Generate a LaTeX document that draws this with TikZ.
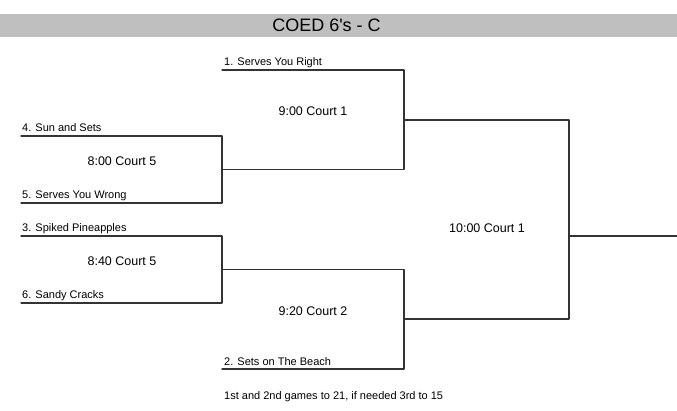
\documentclass[tikz,border=0pt]{standalone}
\usepackage{fontspec}
\setmainfont{Liberation Sans}
\begin{document}
\begin{tikzpicture}[x=1pt, y=-1pt, line join=round, line cap=round,
  team/.style={anchor=base west, inner sep=0pt, font=\fontsize{11}{13}\selectfont},
  game/.style={inner sep=0pt, font=\fontsize{12.5}{14}\selectfont},
  bracket/.style={line width=1.3pt, draw=black!80}]
\def\xa{21} \def\xb{222} \def\xc{404} \def\xd{569} \def\xe{677}
\useasboundingbox (0,0) rectangle (677,411);
% title band
\fill[black!25] (0,14) rectangle (\xe,37);
\node[font=\fontsize{18}{20}\selectfont] (title) at (326.5,25.5) {COED 6\textquotesingle s - C};
% corners of the bracket
\coordinate (a1) at (\xa,136); \coordinate (a2) at (\xb,136);
\coordinate (a3) at (\xb,203); \coordinate (a4) at (\xa,203);
\coordinate (b1) at (\xa,236); \coordinate (b2) at (\xb,236);
\coordinate (b3) at (\xb,303); \coordinate (b4) at (\xa,303);
\coordinate (c1) at (\xb,70);  \coordinate (c2) at (\xc,70);
\coordinate (c3) at (\xc,169.5); \coordinate (c4) at (\xb,169.5);
\coordinate (d1) at (\xb,269.5); \coordinate (d2) at (\xc,269.5);
\coordinate (d3) at (\xc,369); \coordinate (d4) at (\xb,369);
\coordinate (e1) at (\xc,120); \coordinate (e2) at (\xd,120);
\coordinate (e3) at (\xd,319); \coordinate (e4) at (\xc,319);
\coordinate (win) at (\xd,236); \coordinate (champ) at (\xe,236);
\draw[bracket] (a1) -- (a2) -- (a3) -- (a4);
\draw[bracket] (b1) -- (b2) -- (b3) -- (b4);
\draw[bracket] (c1) -- (c2) -- (c3) -- (c4);
\draw[bracket] (d1) -- (d2) -- (d3) -- (d4);
\draw[bracket] (e1) -- (e2) -- (e3) -- (e4);
\draw[bracket] (win) -- (champ);
% teams
\node[team] (t1) at (224,66) {1. Serves You Right};
\node[team] (t4) at (22,132) {4. Sun and Sets};
\node[team] (t5) at (22,199) {5. Serves You Wrong};
\node[team] (t3) at (22,232) {3. Spiked Pineapples};
\node[team] (t6) at (22,299) {6. Sandy Cracks};
\node[team] (t2) at (224,365) {2. Sets on The Beach};
% games
\node[game] (g1) at (122,161) {8:00 Court 5};
\node[game] (g2) at (122,261) {8:40 Court 5};
\node[game] (g3) at (313,111) {9:00 Court 1};
\node[game] (g4) at (313,311) {9:20 Court 2};
\node[game] (g5) at (487,228) {10:00 Court 1};
\node[team] (note) at (224,399) {1st and 2nd games to 21, if needed 3rd to 15};
\end{tikzpicture}
\end{document}
